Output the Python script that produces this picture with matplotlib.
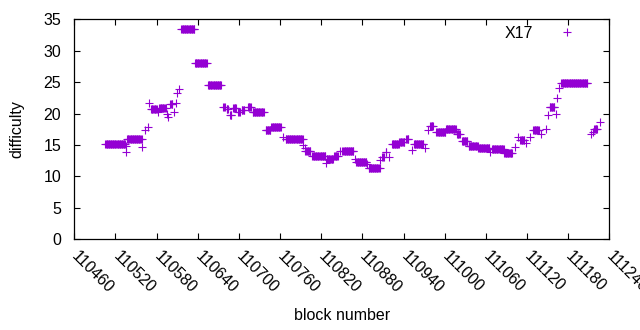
import numpy as np
import matplotlib
matplotlib.use("Agg")
import matplotlib.pyplot as plt

# Segments: runs of consecutive blocks with one difficulty value
seg_start = [110505, 110535, 110536, 110537, 110559, 110563, 110567, 110569, 110572, 110582,
             110584, 110595, 110597, 110600, 110606, 110608, 110610, 110613, 110616, 110636,
             110655, 110677, 110682, 110687, 110692, 110699, 110704, 110713, 110720, 110739,
             110747, 110764, 110768, 110794, 110796, 110797, 110807, 110827, 110828, 110839,
             110847, 110851, 110869, 110871, 110887, 110889, 110906, 110909, 110914, 110919,
             110923, 110934, 110944, 110953, 110955, 110972, 110976, 110979, 110988, 111002,
             111018, 111025, 111035, 111049, 111066, 111069, 111087, 111103, 111107, 111110,
             111119, 111125, 111129, 111140, 111147, 111150, 111153, 111162, 111164, 111167,
             111170, 111213, 111216, 111218, 111227]
seg_end = [110534, 110535, 110536, 110558, 110559, 110563, 110567, 110569, 110580, 110582,
           110593, 110595, 110597, 110603, 110606, 110608, 110610, 110613, 110635, 110653,
           110674, 110679, 110684, 110689, 110696, 110701, 110708, 110717, 110736, 110746,
           110761, 110764, 110793, 110794, 110796, 110804, 110826, 110827, 110837, 110844,
           110847, 110867, 110869, 110886, 110887, 110905, 110906, 110911, 110915, 110919,
           110933, 110941, 110947, 110953, 110969, 110972, 110976, 110983, 111001, 111016,
           111022, 111033, 111048, 111065, 111066, 111086, 111098, 111103, 111107, 111116,
           111119, 111125, 111137, 111140, 111147, 111150, 111160, 111162, 111164, 111167,
           111208, 111213, 111216, 111222, 111227]
seg_value = [15.1, 13.9, 14.8, 15.9, 14.6, 17.4, 17.8, 21.6, 20.7, 20.2,
             20.8, 19.9, 19.5, 21.5, 20.2, 21.6, 23.2, 23.9, 33.4, 28.0,
             24.5, 21.0, 20.7, 19.7, 20.8, 20.3, 20.6, 21.0, 20.2, 17.3,
             17.8, 16.3, 15.9, 15.0, 14.5, 14.0, 13.2, 12.1, 12.8, 13.2,
             14.0, 14.1, 12.7, 12.3, 11.9, 11.3, 12.6, 13.1, 13.8, 13.0,
             15.2, 15.5, 15.9, 14.2, 15.1, 14.5, 17.4, 18.0, 17.0, 17.5,
             16.7, 15.6, 14.9, 14.5, 13.8, 14.3, 13.7, 14.6, 16.2, 15.8,
             15.3, 16.3, 17.3, 16.7, 17.6, 19.8, 21.0, 20.0, 22.4, 24.0,
             24.9, 16.7, 17.1, 17.6, 18.7]

x_ticks = [110460, 110520, 110580, 110640, 110700, 110760, 110820, 110880,
           110940, 111000, 111060, 111120, 111180, 111240]
y_ticks = [0, 5, 10, 15, 20, 25, 30, 35]
series_name = "X17"

blocks = []
vals = []
for s, e, v in zip(seg_start, seg_end, seg_value):
    for b in range(s, e + 1):
        blocks.append(b)
        vals.append(v)

plt.rcParams['font.family'] = ['Liberation Sans', 'DejaVu Sans']
FS = 11.5
fig = plt.figure(figsize=(6.4, 3.3), dpi=100)
L, R, B, T = 74.3, 609.3, 239.1, 19.3
ax = fig.add_axes([L / 640, 1 - B / 330, (R - L) / 640, (B - T) / 330])

color = '#9400D3'
ax.plot(blocks, vals, linestyle='none', marker='+', markersize=5.6,
        markeredgewidth=0.8, color=color, label=series_name)

ax.set_xlim(x_ticks[0], x_ticks[-1])
ax.set_ylim(y_ticks[0], y_ticks[-1])
ax.set_xticks(x_ticks)
ax.set_yticks(y_ticks)
ax.set_xticklabels([str(t) for t in x_ticks], rotation=-45, ha='left', va='center',
                   rotation_mode='anchor', fontsize=FS)
ax.set_yticklabels([str(t) for t in y_ticks], fontsize=FS)
ax.tick_params(direction='in', top=True, right=True, length=4, width=0.8)
ax.tick_params(axis='y', pad=9.4)
ax.tick_params(axis='x', pad=10.5)
for sp in ax.spines.values():
    sp.set_linewidth(0.9)

ax.set_xlabel('block number', fontsize=FS, va='center')
ax.xaxis.set_label_coords(0.5, (B - 316) / (B - T))
ax.set_ylabel('difficulty', fontsize=FS, va='center')
ax.yaxis.set_label_coords((17 - L) / (R - L), 0.5)

ax.legend(loc='upper right', markerfirst=False, frameon=False, fontsize=FS,
          handlelength=1.5, borderaxespad=0.0, borderpad=0.4,
          bbox_to_anchor=((585.4 - L) / (R - L), 1.0), handletextpad=1.4)

fig.savefig('out.png', dpi=100)
